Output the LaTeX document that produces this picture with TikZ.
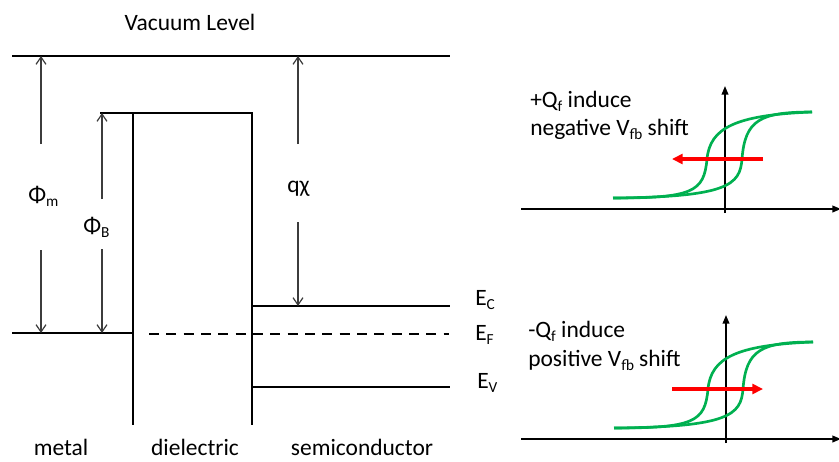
\documentclass[tikz,border=0pt]{standalone}
\usepackage{fontspec}
\setmainfont{Carlito}
\usetikzlibrary{arrows.meta}
\definecolor{loopgreen}{RGB}{0,176,80}
\definecolor{dimgrey}{RGB}{60,60,60}
\newcommand{\lowsub}[1]{\raisebox{-3.2pt}{\fontsize{11.5}{12}\selectfont #1}}
\begin{document}
\begin{tikzpicture}[x=0.75pt,y=-0.75pt,
  txt/.style={font=\fontsize{17.6}{21}\selectfont, inner sep=0pt, anchor=base west},
  ctxt/.style={font=\fontsize{17.6}{21}\selectfont, inner sep=0pt, anchor=base},
  band/.style={line width=1.9pt, line cap=rect},
  thinline/.style={line width=0.9pt},
  dim/.style={line width=0.9pt, dimgrey, -{Straight Barb[length=5.5pt,width=7.5pt,line width=0.9pt]}},
  fermi/.style={line width=1.6pt, dash pattern=on 7.5pt off 5.5pt},
  axis/.style={line width=1.3pt, -{Triangle[length=6.5pt,width=5pt]}},
  loopline/.style={line width=2pt, loopgreen},
  shiftarrow/.style={line width=2.5pt, red, -{Triangle[length=8pt,width=7.5pt]}},
]
\useasboundingbox (0,0) rectangle (839,461);

% ---------- band diagram ----------
\coordinate (vacL) at (13,56);
\coordinate (vacR) at (449,56);
\coordinate (dTL) at (133,113);
\coordinate (dTR) at (252,113);
\coordinate (dBL) at (133,424);
\coordinate (dBR) at (252,424);
\coordinate (mFL) at (13,333);
\coordinate (mFR) at (133,333);
\coordinate (stub) at (100,113);
\coordinate (ecL) at (252,306);
\coordinate (ecR) at (449,306);
\coordinate (evL) at (252,387);
\coordinate (evR) at (449,387);
\coordinate (efL) at (149,334);
\coordinate (efR) at (449,334);

\draw[band] (vacL) -- (vacR);
\draw[band] (dBL) -- (dTL) -- (dTR) -- (dBR);
\draw[band] (mFL) -- (mFR);
\draw[band] (ecL) -- (ecR);
\draw[band] (evL) -- (evR);
\draw[fermi] (efL) -- (efR);
\draw[thinline] (stub) -- (dTL);

% dimension arrows
\coordinate (pmA) at (41,144);   \coordinate (pmT) at (41,56);
\coordinate (pmB) at (41,250);   \coordinate (pmD) at (41,333);
\coordinate (pbA) at (102,199);  \coordinate (pbT) at (102,113);
\coordinate (pbB) at (102,249);  \coordinate (pbD) at (102,333);
\coordinate (qxA) at (298,144);  \coordinate (qxT) at (298,56);
\coordinate (qxB) at (298,222);  \coordinate (qxD) at (298,306);
\draw[dim] (pmA) -- (pmT);
\draw[dim] (pmB) -- (pmD);
\draw[dim] (pbA) -- (pbT);
\draw[dim] (pbB) -- (pbD);
\draw[dim] (qxA) -- (qxT);
\draw[dim] (qxB) -- (qxD);

% labels
\node[ctxt] (vac) at (190,30) {Vacuum Level};
\node[txt] (phim) at (28,202) {Φ\lowsub{m}};
\node[txt] (phib) at (83,233) {Φ\lowsub{B}};
\node[txt] (qchi) at (287,192) {qχ};
\node[txt] (ec) at (475,305) {E\lowsub{C}};
\node[txt] (ef) at (475,340) {E\lowsub{F}};
\node[txt] (ev) at (477,388) {E\lowsub{V}};
\node[ctxt] (metal) at (61,455) {metal};
\node[ctxt] (diel) at (195,455) {dielectric};
\node[ctxt] (semi) at (362,455) {semiconductor};

% ---------- top C-V plot ----------
\coordinate (tAxL) at (521,209);
\coordinate (tAxR) at (841,209);
\coordinate (tAyB) at (725,213);
\coordinate (tAyT) at (725,86);
\draw[axis] (tAxL) -- (tAxR);
\draw[axis] (tAyB) -- (tAyT);
\draw[loopline] (613,198) .. controls (693,198) and (704,192) .. (707,159)
                .. controls (710,128) and (735,115) .. (812,112);
\draw[loopline] (812,112) .. controls (760,112) and (745,120) .. (742,159)
                .. controls (740,185) and (728,197) .. (613,198);
\coordinate (tRs) at (763,159);
\coordinate (tRe) at (672,159);
\draw[shiftarrow] (tRs) -- (tRe);
\node[txt] (t1) at (530,107) {+Q\lowsub{f} induce};
\node[txt] (t2) at (530,135) {negative V\lowsub{fb} shift};

% ---------- bottom C-V plot ----------
\coordinate (bAxL) at (521,439);
\coordinate (bAxR) at (841,439);
\coordinate (bAyB) at (726,443);
\coordinate (bAyT) at (726,315);
\draw[axis] (bAxL) -- (bAxR);
\draw[axis] (bAyB) -- (bAyT);
\begin{scope}[shift={(1,230)}]
\draw[loopline] (613,198) .. controls (693,198) and (704,192) .. (707,159)
                .. controls (710,128) and (735,115) .. (812,112);
\draw[loopline] (812,112) .. controls (760,112) and (745,120) .. (742,159)
                .. controls (740,185) and (728,197) .. (613,198);
\end{scope}
\coordinate (bRs) at (672,389);
\coordinate (bRe) at (763,389);
\draw[shiftarrow] (bRs) -- (bRe);
\node[txt] (b1) at (528,337) {-Q\lowsub{f} induce};
\node[txt] (b2) at (528,366) {positive V\lowsub{fb} shift};
\end{tikzpicture}
\end{document}
